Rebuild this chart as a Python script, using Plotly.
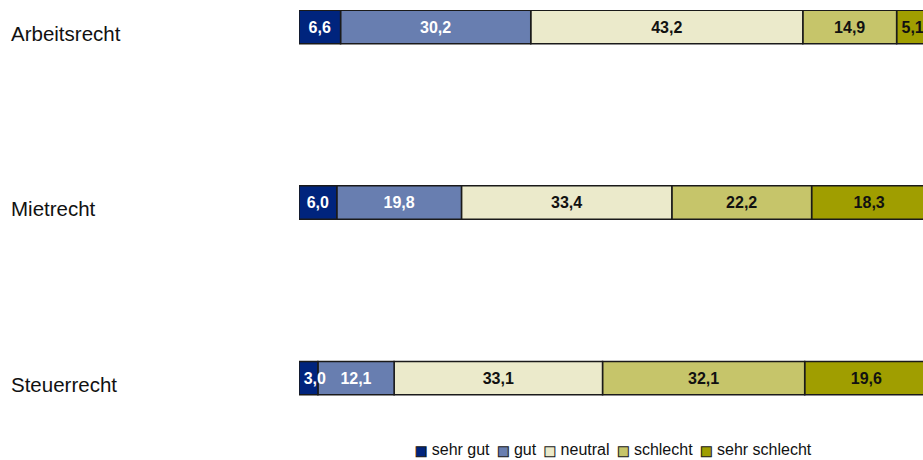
import numpy as np
import plotly.graph_objects as go

categories = ["Arbeitsrecht", "Mietrecht", "Steuerrecht"]
series_names = ["sehr gut", "gut", "neutral", "schlecht", "sehr schlecht"]
sehr_gut = [6.6, 6.0, 3.0]
gut = [30.2, 19.8, 12.1]
neutral = [43.2, 33.4, 33.1]
schlecht = [14.9, 22.2, 32.1]
sehr_schlecht = [5.1, 18.3, 19.6]
values = [sehr_gut, gut, neutral, schlecht, sehr_schlecht]

colors = ["#00247D", "#687EB0", "#EBEACB", "#C6C56A", "#A09E00"]
text_colors = ["white", "white", "#111111", "#111111", "#111111"]
FONT = "Liberation Sans, Arial"

FIG_W = 930  # plot continues slightly past the 923 px window, as in the original


def fmt(v):
    s = f"{v:.1f}".replace(".", ",")
    # very narrow segments: nudge the label to the right so it starts inside the bar
    if v < 4:
        s = "\u2009" * 4 + s
    return s


# stacked bars built with explicit bases so the first series (and its labels)
# can be drawn on top of the others
bases = np.cumsum([[0.0] * len(categories)] + values[:-1], axis=0)

fig = go.Figure()
for idx in reversed(range(len(series_names))):
    vals = values[idx]
    fig.add_trace(go.Bar(
        y=categories, x=vals, base=bases[idx], name=series_names[idx], orientation="h",
        marker=dict(color=colors[idx], line=dict(color="#1a1a1a", width=1.5)),
        text=[fmt(v) for v in vals],
        textposition="inside", insidetextanchor="middle", textangle=0,
        textfont=dict(family=FONT, size=16, color=text_colors[idx], weight="bold"),
        width=0.19, cliponaxis=False, constraintext="none",
        showlegend=False,
    ))

for c in categories:
    fig.add_annotation(x=9 / FIG_W, xref="paper", xanchor="left", y=c, yref="y",
                       yshift=-6, text=c, showarrow=False,
                       font=dict(family=FONT, size=20.5, color="#111111"))

# legend built as a single line of text with coloured squares
legend_parts = []
for name, col in zip(series_names, colors):
    legend_parts.append(
        f'<span style="color:{col};stroke:#1a1a1a;stroke-width:1px;font-size:13px;'
        f'font-family:DejaVu Sans">■</span> {name}'
    )
legend_text = " \u2009".join(legend_parts)
fig.add_annotation(x=613 / FIG_W, xref="paper", xanchor="center",
                   y=-0.128, yref="paper", yanchor="middle",
                   text=legend_text, showarrow=False,
                   font=dict(family=FONT, size=16, color="#111111"))

fig.update_layout(
    barmode="overlay", width=FIG_W, height=460,
    margin=dict(l=0, r=0, t=10, b=60),
    plot_bgcolor="white", paper_bgcolor="white",
    uniformtext=dict(minsize=16, mode="show"),
    xaxis=dict(domain=[299 / FIG_W, 1], range=[0, 100.2], visible=False),
    yaxis=dict(range=[2.125, -0.097], visible=False, categoryorder="array",
               categoryarray=categories),
    showlegend=False,
    font=dict(family=FONT),
)

fig.write_html(
    "out.html", config={"displayModeBar": False},
    post_script=("document.body.style.margin='0';"
                 "document.body.style.overflow='hidden';"
                 "document.documentElement.style.overflow='hidden';"),
)
